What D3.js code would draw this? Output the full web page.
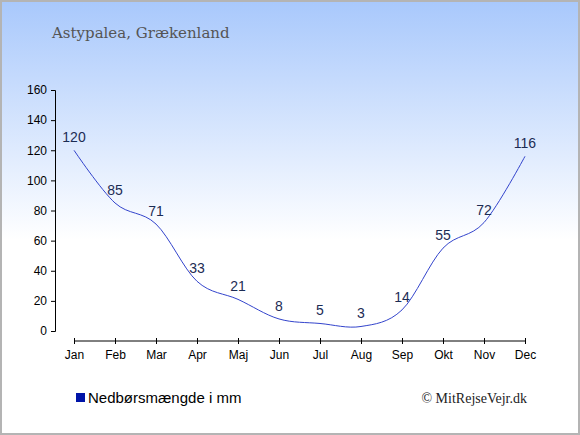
<!DOCTYPE html>
<html>
<head>
  <meta charset="utf-8">
  <script src="https://d3js.org/d3.v7.min.js"></script>
</head>
<style>
body { margin: 0; }
text { font-family: "Liberation Sans", Arial, sans-serif; }
.axis path, .axis line { stroke: #000; }
</style>
<body>
  <svg id="svg_chart"></svg>
</body>
<script>
  var months = ["Jan", "Feb", "Mar", "Apr", "Maj", "Jun", "Jul", "Aug", "Sep", "Okt", "Nov", "Dec"];
  var rain = [120, 85, 71, 33, 21, 8, 5, 3, 14, 55, 72, 116];
  var yTicks = [0, 20, 40, 60, 80, 100, 120, 140, 160];

  var w = 580;
  var h = 435;

  var svg = d3.select("svg#svg_chart")
    .attr("width", w)
    .attr("height", h);

  // background gradient
  var grad = svg.append("defs").append("linearGradient")
    .attr("id", "bg")
    .attr("gradientUnits", "userSpaceOnUse")
    .attr("x1", 0).attr("y1", 0).attr("x2", 0).attr("y2", 240);
  grad.append("stop").attr("offset", 0).attr("stop-color", "#a8c8fc");
  grad.append("stop").attr("offset", 1).attr("stop-color", "#ffffff");

  svg.append("rect")
    .attr("x", 1).attr("y", 1)
    .attr("width", w - 2).attr("height", h - 2)
    .attr("fill", "url(#bg)")
    .attr("stroke", "#b4b4b4")
    .attr("stroke-width", 2);

  svg.append("text")
    .attr("x", 52).attr("y", 38)
    .style("font-family", "'DejaVu Serif', 'Liberation Serif', serif")
    .style("font-size", "15px")
    .attr("fill", "#555")
    .text("Astypalea, Grækenland");

  var x = d3.scalePoint().domain(months).range([74, 525]);
  var y = d3.scaleLinear().domain([0, 160]).range([331, 90]);

  // y axis
  var yAxis = svg.append("g")
    .attr("class", "axis")
    .attr("transform", "translate(55,0)")
    .call(d3.axisLeft(y).tickValues(yTicks).tickSize(4).tickPadding(4));
  yAxis.selectAll("text").style("font-size", "12px").attr("fill", "#000");

  // x axis
  var xAxis = svg.append("g")
    .attr("class", "axis")
    .attr("transform", "translate(0,341)")
    .call(d3.axisBottom(x).tickSizeOuter(0).tickSize(3).tickPadding(6));
  xAxis.select(".domain").attr("d", "M74,0H525");
  xAxis.selectAll(".tick line").attr("y1", -3);
  xAxis.selectAll("text").style("font-size", "12px").attr("fill", "#000");

  var line = d3.line()
    .x(function(d, i) { return x(months[i]); })
    .y(function(d) { return y(d); })
    .curve(d3.curveCardinal.tension(0));

  svg.append("path")
    .datum(rain)
    .attr("d", line)
    .attr("fill", "none")
    .attr("stroke", "#3344cc")
    .attr("stroke-width", 1);

  svg.selectAll("text.val")
    .data(rain)
    .enter().append("text")
    .attr("class", "val")
    .attr("x", function(d, i) { return x(months[i]); })
    .attr("y", function(d) { return y(d) - 8; })
    .attr("text-anchor", "middle")
    .style("font-size", "14px")
    .attr("fill", "#1c2c54")
    .text(function(d) { return d; });

  // legend
  svg.append("rect")
    .attr("x", 76).attr("y", 393)
    .attr("width", 9).attr("height", 9)
    .attr("fill", "#0014a8");
  svg.append("text")
    .attr("x", 88).attr("y", 403)
    .style("font-size", "15px")
    .attr("fill", "#000")
    .text("Nedbørsmængde i mm");

  svg.append("text")
    .attr("x", 527).attr("y", 403)
    .attr("text-anchor", "end")
    .style("font-family", "'Liberation Serif', 'DejaVu Serif', serif")
    .style("font-size", "14px")
    .attr("fill", "#222")
    .text("© MitRejseVejr.dk");
</script>
</html>
